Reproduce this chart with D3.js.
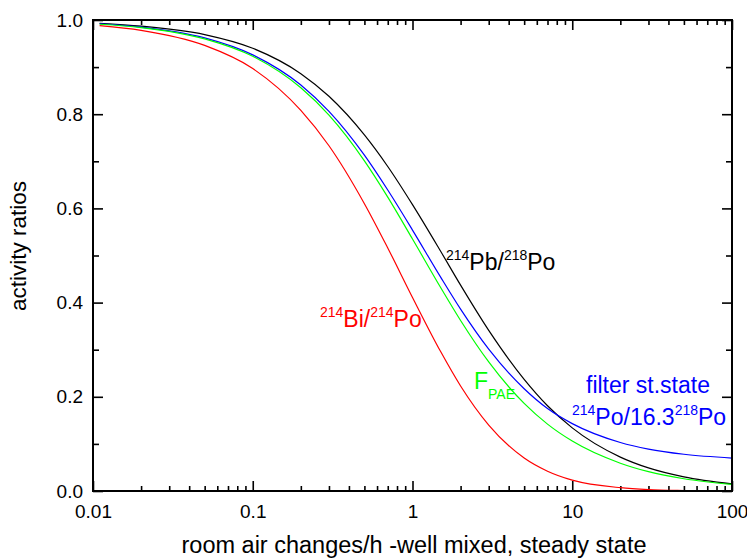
<!DOCTYPE html>
<meta charset="utf-8">
<style>
body { margin: 0; background: #fff; }
text { font-family: Arial, "Liberation Sans", sans-serif; }
.axis path { display: none; }
.axis line { stroke: #000; stroke-width: 1.6px; }
.curve { fill: none; stroke-width: 1.2px; }
</style>
<body>
<script src="https://d3js.org/d3.v7.min.js"></script>
<script>

// room air changes per hour
var rates    = [0.011, 0.02, 0.05, 0.1, 0.2, 0.3, 0.5, 0.7, 1, 1.5, 2, 3, 5, 7, 10, 20, 30, 50, 100];
// 214Pb/218Po
var pbPo     = [0.993, 0.987, 0.969, 0.940, 0.886, 0.838, 0.756, 0.689, 0.608, 0.509, 0.437, 0.341, 0.237, 0.181, 0.134, 0.072, 0.049, 0.030, 0.015];
// 214Bi/214Po
var biPo     = [0.988, 0.978, 0.946, 0.897, 0.808, 0.733, 0.610, 0.516, 0.411, 0.296, 0.223, 0.140, 0.070, 0.042, 0.023, 0.007, 0.003, 0.001, 0.000];
// F PAE
var fPae     = [0.991, 0.984, 0.960, 0.923, 0.856, 0.798, 0.701, 0.624, 0.535, 0.432, 0.362, 0.274, 0.186, 0.142, 0.106, 0.059, 0.041, 0.026, 0.014];
// filter steady state 214Po/16.3 218Po
var filterPo = [0.992, 0.985, 0.962, 0.926, 0.862, 0.806, 0.713, 0.639, 0.554, 0.454, 0.386, 0.301, 0.217, 0.175, 0.143, 0.103, 0.089, 0.078, 0.070];

var xTicks = [0.01, 0.1, 1, 10, 100];
var xTickLabels = ["0.01", "0.1", "1", "10", "100"];
var yTicks = [0, 0.2, 0.4, 0.6, 0.8, 1.0];
var yMinor = [0.1, 0.3, 0.5, 0.7, 0.9];

var width = 747,
    height = 559,
    margin = {top: 20, right: 15, bottom: 68, left: 93},
    w = width - margin.left - margin.right,
    h = height - margin.top - margin.bottom;

var xMinor = [];
xTicks.slice(0, -1).forEach(function(d) {
  for (var k = 2; k < 10; k++) xMinor.push(d * k);
});

var svg = d3.select("body").append("svg")
    .attr("width", width)
    .attr("height", height);

var g = svg.append("g")
    .attr("transform", "translate(" + margin.left + "," + margin.top + ")");

var x = d3.scaleLog().domain([0.01, 100]).range([0, w]);
var y = d3.scaleLinear().domain([0, 1]).range([h, 0]);

// axes, ticks inward on all four sides
g.append("g").attr("class", "axis")
    .attr("transform", "translate(0," + h + ")")
    .call(d3.axisBottom(x).tickValues(xTicks).tickSizeInner(-10).tickSizeOuter(0).tickPadding(14)
      .tickFormat(function(d, i) { return xTickLabels[i]; }))
    .selectAll("text").attr("font-size", 19).attr("fill", "#000");
g.append("g").attr("class", "axis")
    .attr("transform", "translate(0," + h + ")")
    .call(d3.axisBottom(x).tickValues(xMinor).tickSizeInner(-5).tickSizeOuter(0).tickFormat(""));
g.append("g").attr("class", "axis")
    .call(d3.axisTop(x).tickValues(xTicks).tickSizeInner(-10).tickSizeOuter(0).tickFormat(""));
g.append("g").attr("class", "axis")
    .call(d3.axisTop(x).tickValues(xMinor).tickSizeInner(-5).tickSizeOuter(0).tickFormat(""));

g.append("g").attr("class", "axis")
    .call(d3.axisLeft(y).tickValues(yTicks).tickSizeInner(-10).tickSizeOuter(0).tickPadding(10)
      .tickFormat(d3.format(".1f")))
    .selectAll("text").attr("font-size", 19).attr("fill", "#000");
g.append("g").attr("class", "axis")
    .call(d3.axisLeft(y).tickValues(yMinor).tickSizeInner(-6).tickSizeOuter(0).tickFormat(""));
g.append("g").attr("class", "axis")
    .attr("transform", "translate(" + w + ",0)")
    .call(d3.axisRight(y).tickValues(yTicks).tickSizeInner(-10).tickSizeOuter(0).tickFormat(""));
g.append("g").attr("class", "axis")
    .attr("transform", "translate(" + w + ",0)")
    .call(d3.axisRight(y).tickValues(yMinor).tickSizeInner(-6).tickSizeOuter(0).tickFormat(""));

var series = [
  {values: pbPo, color: "#000000"},
  {values: filterPo, color: "#0000ff"},
  {values: fPae, color: "#00ff00"},
  {values: biPo, color: "#ff0000"}
];

var line = d3.line()
    .x(function(d, i) { return x(rates[i]); })
    .y(function(d) { return y(d); })
    .curve(d3.curveMonotoneX);

g.selectAll(".curve")
    .data(series)
    .enter().append("path")
      .attr("class", "curve")
      .attr("stroke", function(d) { return d.color; })
      .attr("d", function(d) { return line(d.values); });

// frame
g.append("rect")
    .attr("width", w)
    .attr("height", h)
    .attr("fill", "none")
    .attr("stroke", "#000")
    .attr("stroke-width", 2);

// axis titles
svg.append("text")
    .attr("x", 414)
    .attr("y", 553)
    .attr("text-anchor", "middle")
    .attr("font-size", 23.5)
    .text("room air changes/h -well mixed, steady state");

svg.append("text")
    .attr("transform", "translate(26,246) rotate(-90)")
    .attr("text-anchor", "middle")
    .attr("font-size", 22.5)
    .text("activity ratios");

// curve labels
function label(px, py, color, parts) {
  var t = svg.append("text").attr("x", px).attr("y", py).attr("fill", color).attr("font-size", 23);
  parts.forEach(function(p) {
    var s = t.append("tspan").text(p[0]);
    if (p[1] === "sup") s.attr("font-size", 14).attr("dy", -10);
    else if (p[1] === "sub") s.attr("font-size", 14).attr("dy", 10);
    else if (p[1] === "up") s.attr("dy", 10);
  });
}

label(446, 270, "#000", [["214", "sup"], ["Pb/", "up"], ["218", "sup"], ["Po", "up"]]);
label(320, 327, "#ff0000", [["214", "sup"], ["Bi/", "up"], ["214", "sup"], ["Po", "up"]]);
label(474, 389, "#00ff00", [["F"], ["PAE", "sub"]]);
svg.append("text")
    .attr("x", 648).attr("y", 393)
    .attr("text-anchor", "middle")
    .attr("fill", "#0000ff")
    .attr("font-size", 23)
    .text("filter st.state");
label(572, 425, "#0000ff", [["214", "sup"], ["Po/16.3", "up"], ["218", "sup"], ["Po", "up"]]);

</script>
</body>
